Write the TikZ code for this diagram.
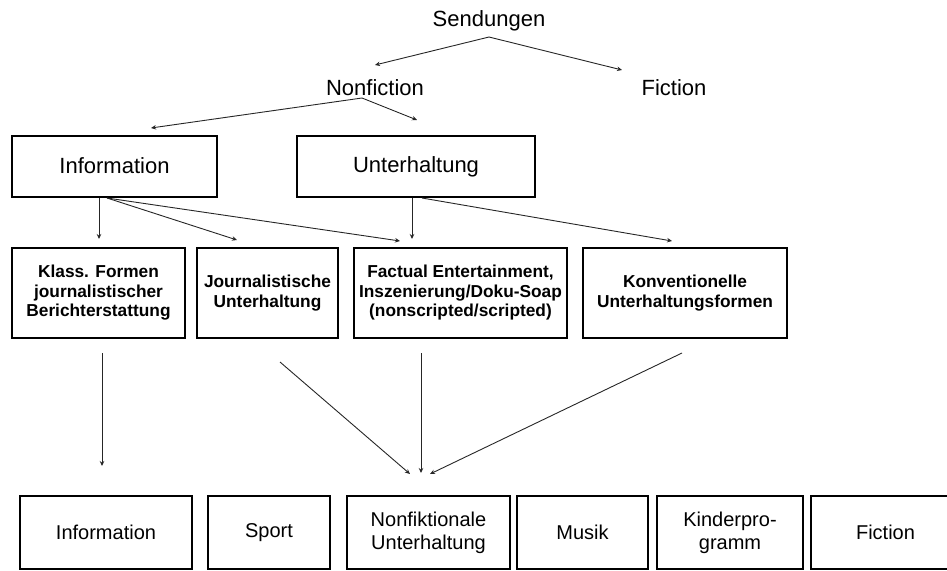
\documentclass[tikz,border=0pt]{standalone}
\usepackage{fontspec}
\setmainfont{Liberation Sans}
\usetikzlibrary{arrows.meta}
\begin{document}
\begin{tikzpicture}[x=1pt,y=-1pt,
  toptxt/.style={font=\fontsize{22}{26}\selectfont, inner sep=0pt},
  topbox/.style={draw, line width=2pt, inner sep=0pt, align=center, font=\fontsize{22}{26}\selectfont, minimum height=61pt},
  midbox/.style={draw, line width=2pt, inner sep=0pt, align=center, font=\bfseries\fontsize{17.3}{19.5}\selectfont, minimum height=90pt},
  botbox/.style={draw, line width=2pt, inner sep=0pt, align=center, font=\fontsize{20}{23}\selectfont, minimum height=73pt},
  arr/.style={draw=black!85, line width=0.9pt, -{Stealth[length=5pt,width=4.5pt]}}
]
\useasboundingbox (0,0) rectangle (947,570);
\clip (0,0) rectangle (947,570);

% top texts
\node[toptxt] (send) at (489,21) {Sendungen};
\node[toptxt] (nonf) at (375,88) {Nonfiction};
\node[toptxt] (fict) at (674,88) {Fiction};

% level 1 boxes
\node[topbox, minimum width=205pt] (info) at (114.5,166) {Information};
\node[topbox, minimum width=238pt] (unt) at (416,166.5) {Unterhaltung};

% level 2 boxes
\node[midbox, minimum width=173pt] (m1) at (98.5,293) {Klass. Formen\\journalistischer\\Berichterstattung};
\node[midbox, minimum width=141pt] (m2) at (267.5,293) {Journalistische\\Unterhaltung};
\node[midbox, minimum width=213pt] (m3) at (460.5,293) {Factual Entertainment,\\Inszenierung/Doku-Soap\\(nonscripted/scripted)};
\node[midbox, minimum width=204pt] (m4) at (685,293) {Konventionelle\\Unterhaltungsformen};

% bottom boxes
\node[botbox, minimum width=172pt] (b1) at (106,532.5) {Information};
\node[botbox, minimum width=122pt] (b2) at (269,532.5) {Sport};
\node[botbox, minimum width=163pt] (b3) at (428.5,532.5) {Nonfiktionale\\Unterhaltung};
\node[botbox, minimum width=131pt] (b4) at (582.5,532.5) {Musik};
\node[botbox, minimum width=146pt] (b5) at (730,532.5) {Kinderpro-\\gramm};
\node[botbox, minimum width=149pt] (b6) at (885.5,532.5) {Fiction};

% connector end points
\coordinate (s0) at (489,37);
\coordinate (sL) at (375,65);
\coordinate (sR) at (622,70);
\coordinate (n0) at (362,98);
\coordinate (nL) at (151,128);
\coordinate (nR) at (417,120);
\coordinate (i0) at (99,198);
\coordinate (i1) at (107,198);
\coordinate (iA) at (99,239);
\coordinate (iB) at (237,240);
\coordinate (iC) at (400,241);
\coordinate (u0) at (412,198);
\coordinate (u1) at (422,198);
\coordinate (uA) at (412,239);
\coordinate (uB) at (672,241);
\coordinate (k1) at (102,353);
\coordinate (k1e) at (102,466);
\coordinate (k2) at (280,362);
\coordinate (k2e) at (410,474);
\coordinate (k3) at (421,353);
\coordinate (k3e) at (421,473);
\coordinate (k4) at (682,353);
\coordinate (k4e) at (430,474);

\draw[arr] (s0) -- (sL);
\draw[arr] (s0) -- (sR);
\draw[arr] (n0) -- (nL);
\draw[arr] (n0) -- (nR);
\draw[arr] (i0) -- (iA);
\draw[arr] (i1) -- (iB);
\draw[arr] (i1) -- (iC);
\draw[arr] (u0) -- (uA);
\draw[arr] (u1) -- (uB);
\draw[arr] (k1) -- (k1e);
\draw[arr] (k2) -- (k2e);
\draw[arr] (k3) -- (k3e);
\draw[arr] (k4) -- (k4e);
\end{tikzpicture}
\end{document}
